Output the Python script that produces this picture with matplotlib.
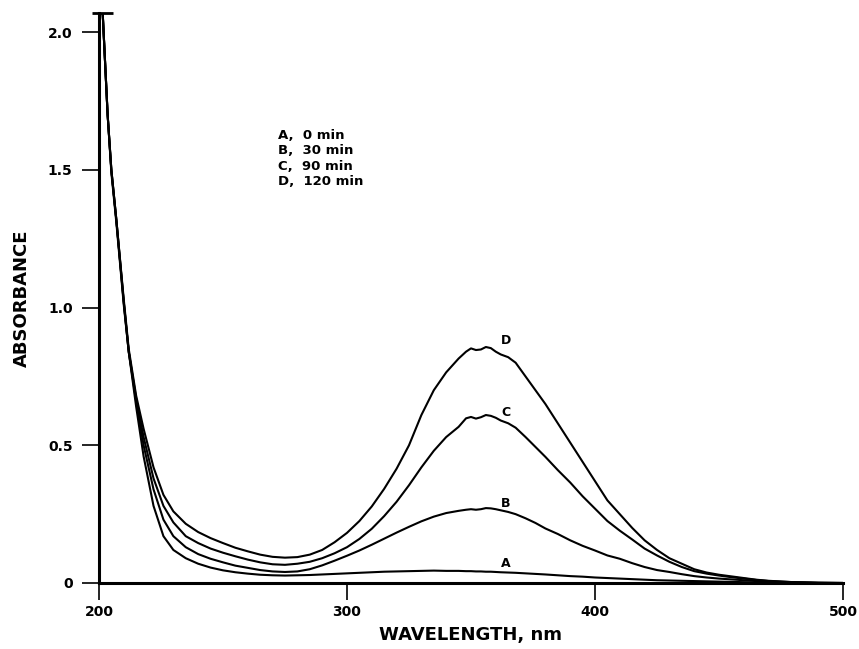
import matplotlib
matplotlib.use("Agg")
import matplotlib.pyplot as plt

# wavelength grid (nm)
wavelength = [200, 201.5, 203.5, 205, 207, 210, 212,
              215, 218, 222, 226, 230,
              235, 240, 245, 250, 255, 260, 265, 270,
              275, 280, 285, 290, 295, 300,
              305, 310, 315, 320, 325, 330, 335, 340, 345,
              348, 350, 352, 354, 356, 358, 360, 362,
              365, 368, 372, 376, 380,
              385, 390, 395, 400, 405, 410, 415, 420,
              425, 430, 435, 440, 445, 450, 455, 460, 465, 470,
              480, 490, 500]

# absorbance, A = 0 min
abs_a = [2.07, 2.07, 1.70, 1.49, 1.31, 1.01, 0.84,
         0.64, 0.46, 0.28, 0.17, 0.12,
         0.09, 0.07, 0.056, 0.046, 0.039, 0.034, 0.03, 0.028,
         0.027, 0.028, 0.029, 0.031, 0.033, 0.035,
         0.037, 0.039, 0.041, 0.042, 0.043, 0.044, 0.045, 0.044, 0.044,
         0.043, 0.043, 0.042, 0.042, 0.041, 0.041, 0.04, 0.039,
         0.038, 0.037, 0.035, 0.033, 0.031,
         0.028, 0.025, 0.023, 0.02, 0.018, 0.016, 0.014, 0.012,
         0.01, 0.009, 0.008, 0.007, 0.006, 0.005, 0.004, 0.003, 0.002, 0.002,
         0.001, 0.0, 0.0]

# B = 30 min
abs_b = [2.07, 2.07, 1.70, 1.50, 1.32, 1.02, 0.84,
         0.66, 0.50, 0.34, 0.23, 0.17,
         0.13, 0.105, 0.088, 0.075, 0.063, 0.055, 0.047, 0.042,
         0.04, 0.042, 0.05, 0.064, 0.081, 0.099,
         0.118, 0.139, 0.161, 0.183, 0.204, 0.224, 0.241, 0.254, 0.262,
         0.266, 0.268, 0.266, 0.268, 0.272, 0.271, 0.268, 0.264,
         0.258, 0.25, 0.235, 0.218, 0.198,
         0.178, 0.155, 0.135, 0.118, 0.10, 0.088, 0.072, 0.058,
         0.047, 0.04, 0.032, 0.025, 0.02, 0.016, 0.013, 0.01, 0.007, 0.005,
         0.002, 0.0, 0.0]

# C = 90 min
abs_c = [2.07, 2.07, 1.70, 1.50, 1.32, 1.02, 0.84,
         0.67, 0.53, 0.38, 0.28, 0.22,
         0.17, 0.145, 0.125, 0.11, 0.097, 0.085, 0.075, 0.068,
         0.066, 0.07, 0.077, 0.09, 0.108, 0.13,
         0.16, 0.197, 0.243, 0.295, 0.355, 0.42, 0.48, 0.53, 0.567,
         0.598, 0.603, 0.597, 0.602, 0.61, 0.607, 0.60, 0.59,
         0.58, 0.564, 0.53, 0.494, 0.458,
         0.41, 0.365, 0.315, 0.27, 0.225, 0.19, 0.158, 0.125,
         0.10, 0.077, 0.058, 0.043, 0.034, 0.027, 0.021, 0.016, 0.011, 0.007,
         0.003, 0.001, 0.0]

# D = 120 min
abs_d = [2.07, 2.07, 1.70, 1.50, 1.32, 1.03, 0.85,
         0.68, 0.56, 0.42, 0.32, 0.26,
         0.215, 0.185, 0.163, 0.145, 0.128, 0.115, 0.103, 0.095,
         0.092, 0.094, 0.103, 0.12, 0.148, 0.182,
         0.225, 0.278, 0.342, 0.415, 0.50, 0.61, 0.70, 0.765, 0.815,
         0.84, 0.852, 0.846, 0.848, 0.857, 0.853, 0.84, 0.83,
         0.82, 0.80, 0.75, 0.70, 0.65,
         0.58, 0.51, 0.44, 0.37, 0.30, 0.25, 0.20, 0.155,
         0.12, 0.09, 0.07, 0.05, 0.038, 0.03, 0.024, 0.018, 0.012, 0.008,
         0.003, 0.001, 0.0]

curve_names = ["A", "B", "C", "D"]
curve_times = ["0 min", "30 min", "90 min", "120 min"]
label_pos = [(364, 0.07), (364, 0.29), (364, 0.62), (364, 0.88)]

x_ticks = [200, 300, 400, 500]
y_ticks = [0, 0.5, 1.0, 1.5, 2.0]
y_tick_labels = ["0", "0.5", "1.0", "1.5", "2.0"]

plt.rcParams["font.family"] = "DejaVu Sans"
plt.rcParams["font.weight"] = "bold"

fig = plt.figure(figsize=(8.59, 6.49), dpi=100)
ax = fig.add_axes([0.1152, 0.1017, 0.8662, 0.8783])

for y in [abs_a, abs_b, abs_c, abs_d]:
    ax.plot(wavelength, y, color="black", linewidth=1.5)

# flat top where the recorder pen hit full scale
ax.hlines(2.07, 197, 205.5, color="black", linewidth=2, clip_on=False)

# curve letters
for name, (lx, ly) in zip(curve_names, label_pos):
    ax.text(lx, ly, name, fontsize=9, fontweight="bold", ha="center", va="center")

# key in upper left
key_lines = [n + ",  " + t for n, t in zip(curve_names, curve_times)]
ax.text(0.241, 0.797, "\n".join(key_lines), transform=ax.transAxes,
        fontsize=9.5, fontweight="bold", va="top", ha="left", linespacing=1.25)

ax.set_xlim(200, 500)
ax.set_ylim(0, 2.07)
ax.set_xticks(x_ticks)
ax.set_yticks(y_ticks)
ax.set_yticklabels(y_tick_labels)

ax.spines["top"].set_visible(False)
ax.spines["right"].set_visible(False)
ax.spines["left"].set_linewidth(2.2)
ax.spines["bottom"].set_linewidth(2.2)
ax.tick_params(axis="both", direction="out", length=12, width=1.2, labelsize=10)
ax.tick_params(axis="y", pad=7)
ax.tick_params(axis="x", pad=4)

ax.set_xlabel("WAVELENGTH, nm", fontsize=13, fontweight="bold", labelpad=5)
ax.set_ylabel("ABSORBANCE", fontsize=13, fontweight="bold", labelpad=12)

fig.savefig("out.png", dpi=100)
